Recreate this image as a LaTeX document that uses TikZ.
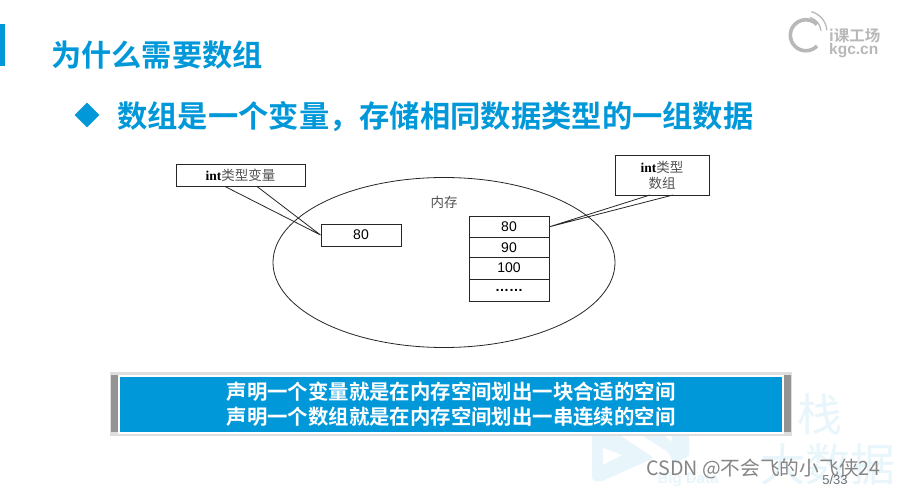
\documentclass[tikz,border=0pt]{standalone}
\usepackage{fontspec}
\setmainfont{Liberation Serif}
\setsansfont{Liberation Sans}
\newfontfamily\cjk{Noto Sans CJK SC}
\newfontfamily\cjkb{Noto Sans CJK SC Bold}
\usetikzlibrary{shapes.geometric}
\definecolor{kgcblue}{HTML}{0098D9}
\definecolor{wm}{HTML}{E8F5FB}
\definecolor{logogray}{HTML}{B8B8B8}
\newcommand{\cjkthin}[1]{{\mdseries\cjk\color{black!68}#1}}
\tikzset{
  title/.style={inner sep=0,anchor=west,text=kgcblue,font=\cjkb\fontsize{30.2}{32}\selectfont},
  sub/.style={inner sep=0,anchor=west,text=kgcblue,font=\cjkb\fontsize{30.3}{32}\selectfont},
  callout/.style={draw=black!85,line width=1pt,fill=white,align=center,inner sep=0,font=\bfseries\fontsize{13.5}{16}\selectfont},
  cell/.style={draw=black!85,line width=1pt,fill=white,inner sep=0,font=\sffamily\fontsize{14}{15}\selectfont},
  lead/.style={draw=black!85,line width=0.8pt},
  wmtext/.style={inner sep=0,text=wm,font=\cjk\fontsize{45}{47}\selectfont},
  wmark/.style={inner sep=0,text=black!48,font=\cjk\fontsize{19.7}{21}\selectfont},
}
\begin{document}
\begin{tikzpicture}[x=1pt,y=-1pt]
\useasboundingbox (0,0) rectangle (897,487);
\fill[white] (0,0) rectangle (897,487);
% watermark
\node[wmtext] (wm1) at (820,414) {栈};
\node[wmtext] (wm2) at (828,464) {大数据};
\fill[wm,rounded corners=2pt] (592,434) -- (618,434) -- (654,458) -- (600,482) -- (592,480) -- cycle;
\fill[white] (603,448) -- (622,455) -- (603,465) -- cycle;
\fill[wm,rounded corners=2pt] (640,434) -- (662,434) -- (672,442) -- (672,434) -- (689,434) -- (689,456) -- (674,464) -- (668,452) -- cycle;
\node[inner sep=0,text=wm,font=\sffamily\bfseries\fontsize{15}{16}\selectfont] (wm3) at (688,480) {Big Data};
% header
\fill[kgcblue] (0,24) rectangle (5,66);
\node[title] (t) at (51,55) {为什么需要数组};
\node[diamond,fill=kgcblue,minimum width=25pt,minimum height=25pt,inner sep=0] (d) at (87,115) {};
\node[sub] (s) at (117,117) {数组是一个变量，存储相同数据类型的一组数据};
% logo
\draw[logogray,line width=3.6pt] (817,46) arc[start angle=44,end angle=316,radius=15.5];
\draw[logogray,line width=1.3pt] (809.9,17.5) arc[start angle=-75,end angle=-5,radius=15];
\draw[logogray,line width=1.3pt] (811.4,11.7) arc[start angle=-75,end angle=-5,radius=21];
\node[inner sep=0,anchor=west,text=logogray,font=\cjkb\fontsize{15.5}{17}\selectfont] (lg1) at (829,36) {i课工场};
\node[inner sep=0,anchor=west,text=logogray,font=\sffamily\bfseries\fontsize{15.5}{16}\selectfont] (lg2) at (829,50.5) {kgc.cn};
% memory
\node[ellipse,draw=black!85,line width=0.8pt,minimum width=342pt,minimum height=170pt,inner sep=0] (mem) at (444,262.5) {};
\node[inner sep=0,font=\cjk\fontsize{13.5}{15}\selectfont,text=black!68] (ml) at (444,202) {内存};
% callouts
\node[callout,minimum width=129pt,minimum height=22pt] (c1) at (240.5,175.5) {int\cjkthin{类型变量}};
\node[callout,minimum width=94pt,minimum height=40pt] (c2) at (662,175) {int\cjkthin{类型}\\\cjkthin{数组}};
% cells
\node[cell,minimum width=80pt,minimum height=22pt] (v) at (361,235) {80};
\node[cell,minimum width=80pt,minimum height=21.5pt] (a1) at (509,226.75) {80};
\node[cell,minimum width=80pt,minimum height=19.5pt] (a2) at (509,247.25) {90};
\node[cell,minimum width=80pt,minimum height=22pt] (a3) at (509,268) {100};
\node[cell,minimum width=80pt,minimum height=22pt] (a4) at (509,290) {\bfseries ……};
% leaders
\coordinate (c1a) at (225,186.5);
\coordinate (c1b) at (257,186.5);
\coordinate (c2a) at (650,195);
\coordinate (c2b) at (673,195);
\draw[lead] (c1a) -- (v.west) -- (c1b);
\draw[lead] (c2a) -- (a1.east) -- (c2b);
% banner
\fill[black!13] (110,372) rectangle (792,436);
\fill[black!42] (111,375) rectangle (791,432);
\node[draw=white,line width=2pt,fill=kgcblue,minimum width=664pt,minimum height=57pt,inner sep=0,align=center,text=white,font=\cjkb\fontsize{20.4}{24.5}\selectfont] (b) at (451,404) {声明一个变量就是在内存空间划出一块合适的空间\\声明一个数组就是在内存空间划出一串连续的空间};
% footer
\node[wmark,anchor=west] (csdn) at (646,469) {CSDN @不会飞的小飞侠24};
\node[inner sep=0,text=black!55,font=\sffamily\fontsize{13}{14}\selectfont] (pg) at (835,480) {5/33};
\end{tikzpicture}
\end{document}
